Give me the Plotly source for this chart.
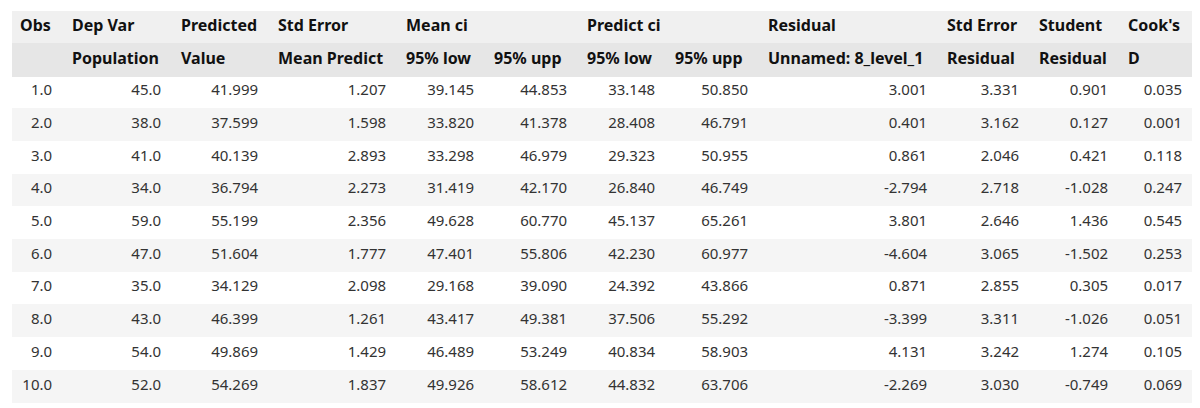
import plotly.graph_objects as go

# regression diagnostics table
obs = [1.0, 2.0, 3.0, 4.0, 5.0, 6.0, 7.0, 8.0, 9.0, 10.0]
dep_var = [45.0, 38.0, 41.0, 34.0, 59.0, 47.0, 35.0, 43.0, 54.0, 52.0]
predicted = [41.999, 37.599, 40.139, 36.794, 55.199, 51.604, 34.129, 46.399, 49.869, 54.269]
std_err_mean = [1.207, 1.598, 2.893, 2.273, 2.356, 1.777, 2.098, 1.261, 1.429, 1.837]
mean_low = [39.145, 33.820, 33.298, 31.419, 49.628, 47.401, 29.168, 43.417, 46.489, 49.926]
mean_upp = [44.853, 41.378, 46.979, 42.170, 60.770, 55.806, 39.090, 49.381, 53.249, 58.612]
pred_low = [33.148, 28.408, 29.323, 26.840, 45.137, 42.230, 24.392, 37.506, 40.834, 44.832]
pred_upp = [50.850, 46.791, 50.955, 46.749, 65.261, 60.977, 43.866, 55.292, 58.903, 63.706]
residual = [3.001, 0.401, 0.861, -2.794, 3.801, -4.604, 0.871, -3.399, 4.131, -2.269]
std_err_resid = [3.331, 3.162, 2.046, 2.718, 2.646, 3.065, 2.855, 3.311, 3.242, 3.030]
student_resid = [0.901, 0.127, 0.421, -1.028, 1.436, -1.502, 0.305, -1.026, 1.274, -0.749]
cooks_d = [0.035, 0.001, 0.118, 0.247, 0.545, 0.253, 0.017, 0.051, 0.105, 0.069]

header_top = ["Obs", "Dep Var", "Predicted", "Std Error", "Mean ci", "", "Predict ci", "",
              "Residual", "Std Error", "Student", "Cook's"]
header_bottom = ["", "Population", "Value", "Mean Predict", "95% low", "95% upp", "95% low",
                 "95% upp", "Unnamed: 8_level_1", "Residual", "Residual", "D"]

columns = [obs, dep_var, predicted, std_err_mean, mean_low, mean_upp, pred_low, pred_upp,
           residual, std_err_resid, student_resid, cooks_d]
formats = [".1f", ".1f"] + [".3f"] * 10
widths = [52, 109, 97, 128, 88, 93, 88, 93, 179, 92, 89, 74]

hdr_colors = ["#f0f0f0", "#e6e6e6"]
row_colors = ["#ffffff", "#f5f5f5"] * 5


def nb(s):
    # nbsp keeps plotly from wrapping narrow header cells
    return s.replace(" ", "\u00a0")


fig = go.Figure(go.Table(
    columnwidth=widths,
    header=dict(
        values=[[nb(t), nb(b)] for t, b in zip(header_top, header_bottom)],
        fill_color=[hdr_colors],
        line_color=[hdr_colors],
        align="left",
        height=32.5,
        font=dict(family="Noto Sans", size=16, color="#111111", weight="bold"),
    ),
    cells=dict(
        values=columns,
        format=formats,
        suffix="\u00a0",
        fill_color=[row_colors],
        line_color=[row_colors],
        align="right",
        height=32.7,
        font=dict(family="Noto Sans", size=15, color="#333333"),
    ),
))

# the page body adds an 8px offset, so margins are measured from there
fig.update_layout(
    width=1192,
    height=400,
    margin=dict(l=4, r=6, t=3, b=0),
    paper_bgcolor="white",
)
fig.write_html("out.html")
